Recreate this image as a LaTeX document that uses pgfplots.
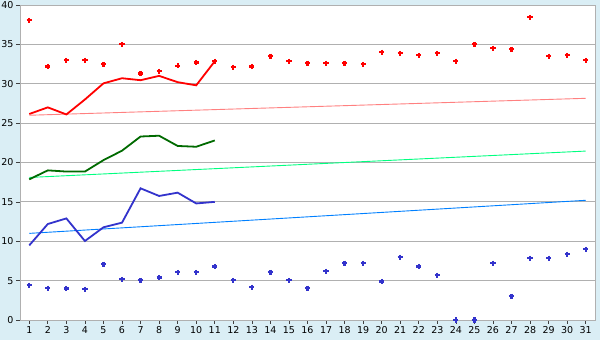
\documentclass[border=0pt]{standalone}
\usepackage{pgfplots}
\pgfplotsset{compat=1.18}
\usepackage{pgfplotstable}
\usepackage{fontspec}
\setmainfont{DejaVu Sans}
\definecolor{bgblue}{HTML}{DAEEF5}
\definecolor{gridgray}{HTML}{B0B0B0}
\definecolor{dgreen}{HTML}{006A00}
\definecolor{lgreen}{HTML}{00FF80}
\definecolor{lred}{HTML}{FF8080}
\definecolor{mblue}{HTML}{3333CC}
\definecolor{tblue}{HTML}{0080FF}

\pgfplotstableread{
d v
1 38.06
2 32.2
3 32.97
4 33.0
5 32.46
6 35.0
7 31.3
8 31.6
9 32.3
10 32.7
11 32.85
12 32.1
13 32.2
14 33.5
15 32.85
16 32.6
17 32.6
18 32.6
19 32.46
20 34.0
21 33.86
22 33.6
23 33.86
24 32.85
25 35.0
26 34.5
27 34.37
28 38.43
29 33.5
30 33.6
31 32.97
}\maxpts

\pgfplotstableread{
d v
1 4.4
2 4.02
3 4.0
4 3.9
5 7.07
6 5.16
7 5.03
8 5.4
9 6.05
10 6.05
11 6.8
12 5.03
13 4.15
14 6.05
15 5.03
16 4.02
17 6.18
18 7.2
19 7.2
20 4.9
21 7.96
22 6.8
23 5.67
24 0
25 0
26 7.2
27 3.0
28 7.83
29 7.83
30 8.34
31 8.97
}\minpts

\pgfplotstableread{
d v
1 26.16
2 27.0
3 26.1
4 28.0
5 30.05
6 30.7
7 30.45
8 31.0
9 30.2
10 29.8
11 32.85
}\maxline

\pgfplotstableread{
d v
1 17.86
2 19.0
3 18.85
4 18.85
5 20.3
6 21.5
7 23.3
8 23.4
9 22.1
10 22.0
11 22.8
}\avgline

\pgfplotstableread{
d v
1 9.48
2 12.19
3 12.9
4 10.03
5 11.77
6 12.36
7 16.72
8 15.75
9 16.17
10 14.8
11 15.0
}\minline

\begin{document}
\begin{tikzpicture}[x=1pt,y=1pt]
\fill[bgblue] (0,0) rectangle (600,340);
\useasboundingbox (0,0) rectangle (600,340);
\begin{axis}[
  at={(20pt,20pt)}, anchor=south west,
  scale only axis, width=575pt, height=315pt,
  xmin=0.5, xmax=31.5, ymin=0, ymax=40,
  xtick={1,...,31}, ytick={0,5,...,40},
  axis background/.style={fill=white},
  axis line style={gridgray, line width=0.9pt},
  ymajorgrids, major grid style={gridgray, line width=0.9pt},
  tick style={black!75, line width=0.7pt},
  tick align=outside, major tick length=4pt,
  xtick pos=bottom, ytick pos=left,
  tick label style={font=\fontsize{9.5}{10}\selectfont, text=black},
  /pgf/number format/assume math mode=true,
  xticklabel style={yshift=1pt},
  yticklabel style={xshift=1pt},
  clip=false,
]
\addplot[lred, line width=0.9pt] coordinates {(1,26.0) (31,28.15)};
\addplot[lgreen, line width=0.9pt] coordinates {(1,18.1) (31,21.45)};
\addplot[tblue, line width=0.9pt] coordinates {(1,11.0) (31,15.2)};
\addplot[red, line width=1.8pt] table {\maxline};
\addplot[dgreen, line width=1.8pt] table {\avgline};
\addplot[mblue, line width=1.8pt] table {\minline};
\addplot[only marks, mark=+, red, mark size=2.6pt, mark options={line width=2.2pt}] table {\maxpts};
\addplot[only marks, mark=+, mblue, mark size=2.6pt, mark options={line width=2.2pt}] table {\minpts};
\end{axis}
\end{tikzpicture}
\end{document}
